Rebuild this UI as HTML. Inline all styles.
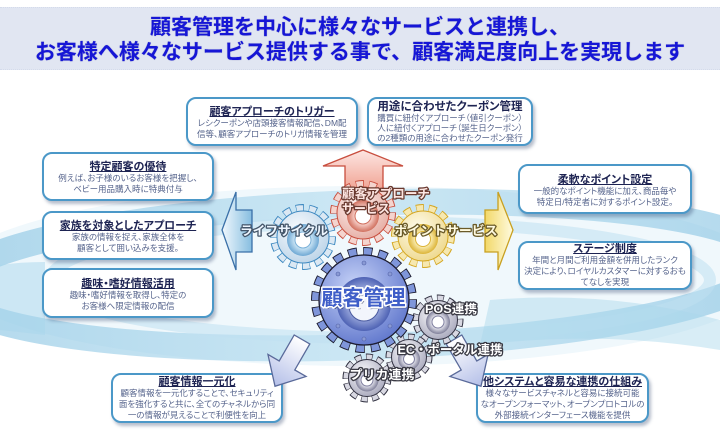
<!DOCTYPE html>
<html><head><meta charset="utf-8"><style>
html,body{margin:0;padding:0;background:#fff;}
body{width:720px;height:434px;overflow:hidden;position:relative;font-family:"Liberation Sans","Noto Sans CJK JP",sans-serif;}
.hdr{position:absolute;left:0;top:7px;width:720px;height:63px;background:#e1e6f2;border-top:1px dotted #d4dbeb;border-bottom:1px dotted #d4dbeb;box-sizing:border-box;padding-top:7px;text-align:center;color:#1616d6;font-weight:bold;font-size:21px;line-height:25px;white-space:nowrap;text-shadow:0 0 1px rgba(20,20,120,.4);}
.box{position:absolute;box-sizing:border-box;background:#fff;border:2px solid #4b98c8;border-radius:10px;box-shadow:2px 3px 3px rgba(50,70,110,.35);display:flex;flex-direction:column;align-items:center;justify-content:center;font-feature-settings:"palt";}
.t{font-size:11px;font-weight:bold;color:#1d2352;text-decoration:underline;line-height:12px;white-space:nowrap;}
.b{font-size:8.5px;color:#56648c;line-height:11px;white-space:nowrap;}
.p2{padding-top:3px;}
svg{position:absolute;left:0;top:0;}
</style></head><body>

<svg width="720" height="434" viewBox="0 0 720 434">
<defs>
<linearGradient id="rib" x1="0" y1="0" x2="1" y2="0">
<stop offset="0" stop-color="#7fbfe0"/><stop offset=".5" stop-color="#b4dcef"/><stop offset="1" stop-color="#7fbfe0"/>
</linearGradient>
</defs>
<ellipse cx="360" cy="276" rx="410" ry="90" fill="#f0f8fc"/>
<ellipse cx="360" cy="275" rx="410" ry="72" fill="none" stroke="url(#rib)" stroke-width="26" opacity=".6" transform="rotate(-2 360 275)"/>
<ellipse cx="380" cy="280" rx="330" ry="58" fill="none" stroke="#bfe0f0" stroke-width="12" opacity=".55"/>
<path d="M490 300 Q610 290 720 320 L720 350 Q600 330 480 345 Z" fill="#a8d6ec" opacity=".45"/>
<path d="M0 265 Q20 262 45 262 L45 335 Q20 332 0 330 Z" fill="#a8d6ec" opacity=".5"/>
</svg>

<div class="hdr">顧客管理を中心に様々なサービスと連携し、<br>お客様へ様々なサービス提供する事で、顧客満足度向上を実現します</div>

<div class="box p2" style="left:186px;top:97px;width:172px;height:49px;">
<div class="t">顧客アプローチのトリガー</div>
<div class="b">レシクーポンや店頭接客情報配信、DM配</div>
<div class="b">信等、顧客アプローチのトリガ情報を管理</div>
</div>

<div class="box" style="left:367px;top:97px;width:166px;height:49px;">
<div class="t" style="text-decoration:none;font-size:11.5px;line-height:12px;">用途に合わせたクーポン管理</div>
<div class="b" style="line-height:10px;">購買に紐付くアプローチ（値引クーポン）</div>
<div class="b" style="line-height:10px;">人に紐付くアプローチ（誕生日クーポン）</div>
<div class="b" style="line-height:10px;">の2種類の用途に合わせたクーポン発行</div>
</div>

<div class="box p2" style="left:42px;top:152px;width:172px;height:49px;">
<div class="t">特定顧客の優待</div>
<div class="b">例えば、お子様のいるお客様を把握し、</div>
<div class="b">ベビー用品購入時に特典付与</div>
</div>

<div class="box p2" style="left:42px;top:211px;width:172px;height:49px;">
<div class="t">家族を対象としたアプローチ</div>
<div class="b">家族の情報を捉え、家族全体を</div>
<div class="b">顧客として囲い込みを支援。</div>
</div>

<div class="box p2" style="left:42px;top:268px;width:172px;height:50px;">
<div class="t">趣味・嗜好情報活用</div>
<div class="b">趣味・嗜好情報を取得し、特定の</div>
<div class="b">お客様へ限定情報の配信</div>
</div>

<div class="box p2" style="left:518px;top:164px;width:174px;height:50px;">
<div class="t">柔軟なポイント設定</div>
<div class="b">一般的なポイント機能に加え、商品毎や</div>
<div class="b">特定日/特定者に対するポイント設定。</div>
</div>

<div class="box" style="left:518px;top:241px;width:174px;height:49px;">
<div class="t">ステージ制度</div>
<div class="b">年間と月間ご利用金額を併用したランク</div>
<div class="b">決定により、ロイヤルカスタマーに対するおも</div>
<div class="b">てなしを実現</div>
</div>

<div class="box" style="left:111px;top:373px;width:172px;height:50px;">
<div class="t">顧客情報一元化</div>
<div class="b">顧客情報を一元化することで、セキュリティ</div>
<div class="b">面を強化すると共に、全てのチャネルから同</div>
<div class="b">一の情報が見えることで利便性を向上</div>
</div>

<div class="box" style="left:476px;top:373px;width:173px;height:50px;">
<div class="t">他システムと容易な連携の仕組み</div>
<div class="b">様々なサービスチャネルと容易に接続可能</div>
<div class="b">なオープンフォーマット、オープンプロトコルの</div>
<div class="b">外部接続インターフェース機能を提供</div>
</div>

<svg width="720" height="434" viewBox="0 0 720 434">
<defs>
<linearGradient id="aR" x1="0" y1="0" x2="0" y2="1"><stop offset="0" stop-color="#fde6e2"/><stop offset="1" stop-color="#f0a090"/></linearGradient>
<linearGradient id="aL" x1="0" y1="0" x2="1" y2="0"><stop offset="0" stop-color="#f0f8fd"/><stop offset="1" stop-color="#86bde0"/></linearGradient>
<linearGradient id="aY" x1="1" y1="0" x2="0" y2="0"><stop offset="0" stop-color="#fffbe0"/><stop offset="1" stop-color="#f2d868"/></linearGradient>
<linearGradient id="aG" x1="0" y1="0" x2="0" y2="1"><stop offset="0" stop-color="#ffffff"/><stop offset="1" stop-color="#b4bfe8"/></linearGradient>
<radialGradient id="gB" cx="40%" cy="35%" r="70%"><stop offset="0" stop-color="#c8d4f8"/><stop offset="1" stop-color="#5f76cc"/></radialGradient>
<radialGradient id="gBr" cx="50%" cy="50%" r="50%"><stop offset=".55" stop-color="#9aa8dc"/><stop offset="1" stop-color="#4e62b4"/></radialGradient>
<radialGradient id="gL" cx="40%" cy="35%" r="70%"><stop offset="0" stop-color="#f8fbfe"/><stop offset="1" stop-color="#bcd4e8"/></radialGradient>
<radialGradient id="gLr" cx="50%" cy="50%" r="50%"><stop offset=".55" stop-color="#c4e0f2"/><stop offset="1" stop-color="#6ea8d4"/></radialGradient>
<radialGradient id="gR" cx="40%" cy="35%" r="70%"><stop offset="0" stop-color="#fef4f2"/><stop offset="1" stop-color="#e6aca2"/></radialGradient>
<radialGradient id="gRr" cx="50%" cy="50%" r="50%"><stop offset=".55" stop-color="#f4c8c0"/><stop offset="1" stop-color="#d0705e"/></radialGradient>
<radialGradient id="gY" cx="40%" cy="35%" r="70%"><stop offset="0" stop-color="#fffcec"/><stop offset="1" stop-color="#eed88c"/></radialGradient>
<radialGradient id="gYr" cx="50%" cy="50%" r="50%"><stop offset=".55" stop-color="#f8e8a8"/><stop offset="1" stop-color="#dcb438"/></radialGradient>
<radialGradient id="gG" cx="40%" cy="35%" r="70%"><stop offset="0" stop-color="#fafafc"/><stop offset="1" stop-color="#a8a8bc"/></radialGradient>
<radialGradient id="gGr" cx="50%" cy="50%" r="50%"><stop offset=".55" stop-color="#dcdce6"/><stop offset="1" stop-color="#80809a"/></radialGradient>
</defs>

<!-- arrows -->
<polygon points="363,150 403,166 383,166 383,192 345,192 345,166 323,166" fill="url(#aR)" stroke="#c84e3e" stroke-width="1.3"/>
<polygon points="222,230 236,192 236,210 252,210 252,252 236,252 236,270" fill="url(#aL)" stroke="#3a70a8" stroke-width="1.3"/>
<polygon points="513,230 498,192 498,210 485,210 485,252 498,252 498,270" fill="url(#aY)" stroke="#c8a020" stroke-width="1.3"/>
<polygon points="0,28 -22,4 -9,4 -9,-26 9,-26 9,4 22,4" fill="url(#aG)" stroke="#5a6a9a" stroke-width="1.3" transform="translate(289,362) rotate(30)"/>
<polygon points="0,28 -22,4 -9,4 -9,-26 9,-26 9,4 22,4" fill="url(#aG)" stroke="#5a6a9a" stroke-width="1.3" transform="translate(467,362) rotate(-30)"/>

<!-- light blue gear -->
<g>
<circle cx="303" cy="237" r="29" fill="none" stroke="#3c88c0" stroke-width="8" pathLength="100" stroke-dasharray="4.3 2.843" stroke-dashoffset="0.3"/>
<circle cx="303" cy="237" r="29" fill="none" stroke="#dbe8f3" stroke-width="6" pathLength="100" stroke-dasharray="3.571 3.572"/>
<circle cx="303" cy="237" r="26" fill="url(#gL)" stroke="#3c88c0" stroke-width="1"/>
<circle cx="303" cy="240" r="16" fill="url(#gLr)"/>
<circle cx="303" cy="240" r="8" fill="#ffffff" stroke="#7ab0d8" stroke-width="1"/>
</g>
<!-- yellow gear -->
<g>
<circle cx="423" cy="236" r="28" fill="none" stroke="#d4a620" stroke-width="8" pathLength="100" stroke-dasharray="4.3 2.843" stroke-dashoffset="0.3"/>
<circle cx="423" cy="236" r="28" fill="none" stroke="#f6e8b0" stroke-width="6" pathLength="100" stroke-dasharray="3.571 3.572"/>
<circle cx="423" cy="236" r="25" fill="url(#gY)" stroke="#d4a620" stroke-width="1"/>
<circle cx="423" cy="239" r="15" fill="url(#gYr)"/>
<circle cx="423" cy="239" r="7.5" fill="#ffffff" stroke="#dcb438" stroke-width="1"/>
</g>
<!-- red gear -->
<g>
<circle cx="363" cy="213" r="29" fill="none" stroke="#c84e3e" stroke-width="8" pathLength="100" stroke-dasharray="4.3 2.843" stroke-dashoffset="0.3"/>
<circle cx="363" cy="213" r="29" fill="none" stroke="#f4d4ce" stroke-width="6" pathLength="100" stroke-dasharray="3.571 3.572"/>
<circle cx="363" cy="213" r="26" fill="url(#gR)" stroke="#c84e3e" stroke-width="1"/>
<circle cx="363" cy="216" r="16" fill="url(#gRr)"/>
<circle cx="363" cy="216" r="8" fill="#ffffff" stroke="#d0705e" stroke-width="1"/>
</g>
<!-- POS gear -->
<g>
<circle cx="438" cy="320" r="22" fill="none" stroke="#303040" stroke-width="7" pathLength="100" stroke-dasharray="5 3.333" stroke-dashoffset="0.4"/>
<circle cx="438" cy="320" r="22" fill="none" stroke="#d8d8e2" stroke-width="5" pathLength="100" stroke-dasharray="4.166 4.167"/>
<circle cx="438" cy="320" r="19.5" fill="url(#gG)" stroke="#303040" stroke-width="1"/>
<circle cx="438" cy="322" r="12" fill="url(#gGr)"/>
<circle cx="438" cy="322" r="6" fill="#ffffff" stroke="#8080a0" stroke-width="1"/>
</g>
<!-- EC gear -->
<g>
<circle cx="409" cy="357" r="20" fill="none" stroke="#303040" stroke-width="7" pathLength="100" stroke-dasharray="5 3.333" stroke-dashoffset="0.4"/>
<circle cx="409" cy="357" r="20" fill="none" stroke="#d8d8e2" stroke-width="5" pathLength="100" stroke-dasharray="4.166 4.167"/>
<circle cx="409" cy="357" r="17.5" fill="url(#gG)" stroke="#303040" stroke-width="1"/>
<circle cx="409" cy="359" r="11" fill="url(#gGr)"/>
<circle cx="409" cy="359" r="5.5" fill="#ffffff" stroke="#8080a0" stroke-width="1"/>
</g>
<!-- big blue gear -->
<g>
<circle cx="364" cy="300" r="48.5" fill="none" stroke="#1c1c30" stroke-width="9" pathLength="100" stroke-dasharray="3 2" stroke-dashoffset="0.25"/>
<circle cx="364" cy="300" r="48.5" fill="none" stroke="#7f96da" stroke-width="7" pathLength="100" stroke-dasharray="2.5 2.5"/>
<circle cx="364" cy="300" r="45" fill="url(#gB)" stroke="#1c1c30" stroke-width="1.3"/>
<circle cx="364" cy="304" r="27" fill="url(#gBr)"/>
<circle cx="364" cy="306" r="15" fill="#f2f5fc" stroke="#4a5aa0" stroke-width="1"/>
<g fill="#8a9ad4" stroke="#5060a8" stroke-width=".6">
<circle cx="364" cy="263" r="2"/><circle cx="364" cy="339" r="2"/><circle cx="327" cy="300" r="2"/><circle cx="401" cy="300" r="2"/>
<circle cx="338" cy="274" r="2"/><circle cx="390" cy="274" r="2"/><circle cx="338" cy="326" r="2"/><circle cx="390" cy="326" r="2"/>
</g>
</g>
<!-- prika gear -->
<g>
<circle cx="367" cy="378" r="21" fill="none" stroke="#303040" stroke-width="7" pathLength="100" stroke-dasharray="5 3.333" stroke-dashoffset="0.4"/>
<circle cx="367" cy="378" r="21" fill="none" stroke="#d8d8e2" stroke-width="5" pathLength="100" stroke-dasharray="4.166 4.167"/>
<circle cx="367" cy="378" r="18.5" fill="url(#gG)" stroke="#303040" stroke-width="1"/>
<circle cx="367" cy="380" r="11.5" fill="url(#gGr)"/>
<circle cx="367" cy="380" r="6" fill="#ffffff" stroke="#8080a0" stroke-width="1"/>
</g>

<!-- labels -->
<g font-family="'Liberation Sans','Noto Sans CJK JP',sans-serif" font-weight="bold" paint-order="stroke" stroke-linejoin="round">
<text x="284" y="235" text-anchor="middle" font-size="12.5" textLength="88" lengthAdjust="spacingAndGlyphs" fill="#eef6ff" stroke="#44566a" stroke-width="2.6">ライフサイクル</text>
<text x="386" y="198" text-anchor="middle" font-size="12.5" textLength="88" lengthAdjust="spacingAndGlyphs" fill="#fde6e2" stroke="#6a3a30" stroke-width="2.6">顧客アプローチ</text>
<text x="366" y="213" text-anchor="middle" font-size="12.5" textLength="48" lengthAdjust="spacingAndGlyphs" fill="#fde6e2" stroke="#6a3a30" stroke-width="2.6">サービス</text>
<text x="446" y="235" text-anchor="middle" font-size="12.5" textLength="103" lengthAdjust="spacingAndGlyphs" fill="#fffae0" stroke="#6a5a28" stroke-width="2.6">ポイントサービス</text>
<text x="365" y="307" text-anchor="middle" font-size="21" textLength="84" lengthAdjust="spacingAndGlyphs" fill="#101840" opacity=".6">顧客管理</text>
<text x="363.5" y="305" text-anchor="middle" font-size="21" textLength="84" lengthAdjust="spacingAndGlyphs" fill="#3f5ec8" stroke="#ffffff" stroke-width="3.2">顧客管理</text>
<text x="451" y="313" text-anchor="middle" font-size="12" textLength="52" lengthAdjust="spacingAndGlyphs" fill="#ffffff" stroke="#3a3a44" stroke-width="2.6">POS連携</text>
<text x="450" y="354" text-anchor="middle" font-size="12.5" textLength="105" lengthAdjust="spacingAndGlyphs" fill="#ffffff" stroke="#3a3a44" stroke-width="2.6">EC・ポータル連携</text>
<text x="382" y="379" text-anchor="middle" font-size="12.5" textLength="65" lengthAdjust="spacingAndGlyphs" fill="#ffffff" stroke="#3a3a44" stroke-width="2.6">プリカ連携</text>
</g>
</svg>
</body></html>
